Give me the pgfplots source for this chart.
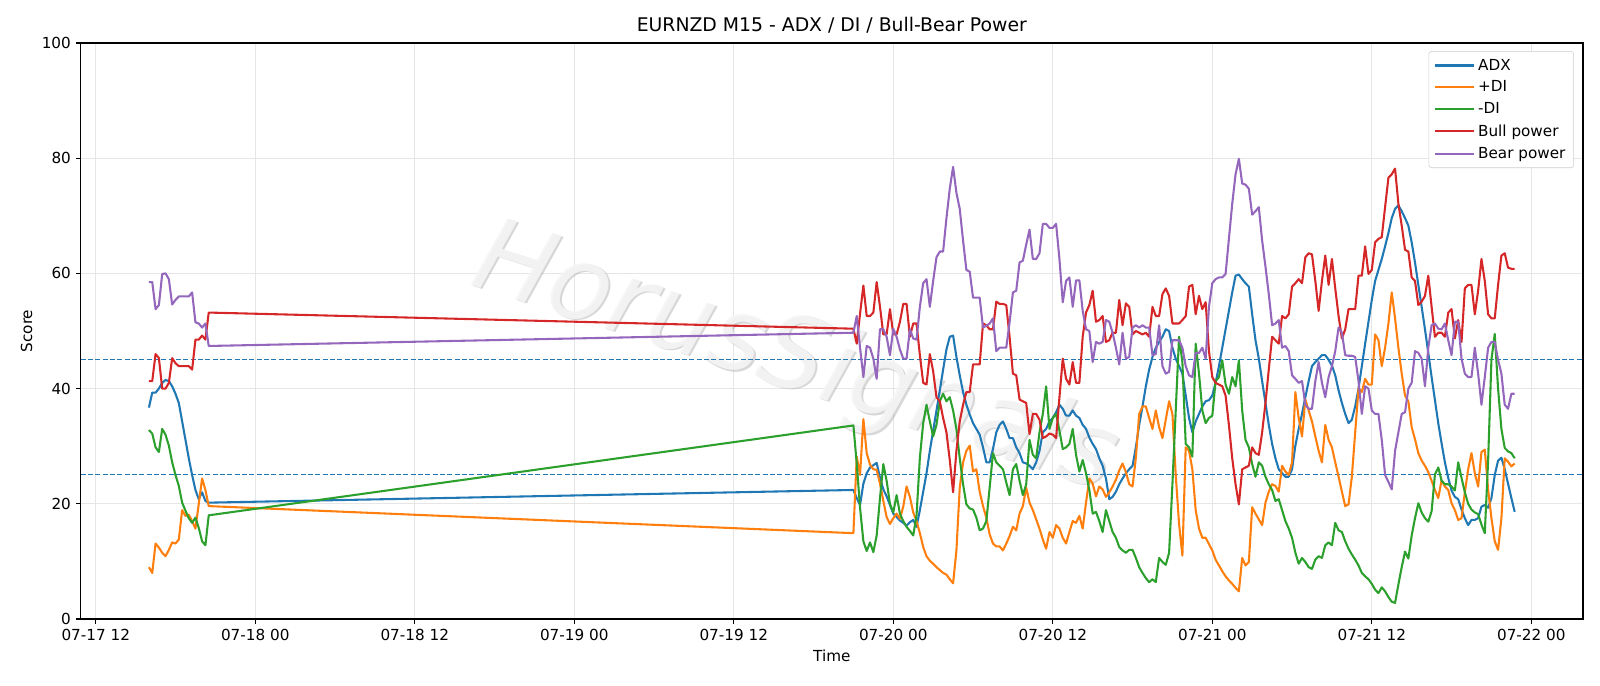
\documentclass[border=0pt]{standalone}
\usepackage{fontspec}
\setmainfont{DejaVu Sans}
\usepackage{pgfplots}
\pgfplotsset{compat=1.18}
\definecolor{tabblue}{HTML}{1F77B4}
\definecolor{taborange}{HTML}{FF7F0E}
\definecolor{tabgreen}{HTML}{2CA02C}
\definecolor{tabred}{HTML}{D62728}
\definecolor{tabpurple}{HTML}{9467BD}
\definecolor{gridgray}{HTML}{E6E6E6}
\begin{document}
\begin{tikzpicture}
\path[use as bounding box] (-0.806in,-0.67in) rectangle (15.194in,6.19in);
\begin{axis}[
  scale only axis, width=15.024in, height=5.76in,
  xmin=10.86, xmax=123.89, ymin=0, ymax=100,
  xtick={12,24,36,48,60,72,84,96,108,120},
  xticklabels={07-17 12,07-18 00,07-18 12,07-19 00,07-19 12,07-20 00,07-20 12,07-21 00,07-21 12,07-22 00},
  ytick={0,20,40,60,80,100},
  /pgf/number format/assume math mode=true,
  tick label style={font=\fontsize{11}{13}\selectfont},
  label style={font=\fontsize{11}{13}\selectfont},
  xlabel={Time}, ylabel={Score},
  title={EURNZD M15 - ADX / DI / Bull-Bear Power},
  title style={font=\fontsize{13.6}{16}\selectfont, yshift=-2.5pt},
  grid=major, grid style={gridgray, line width=0.8pt},
  axis line style={black, line width=0.8pt},
  tick pos=left, tick align=outside, major tick length=3.5pt,
  tick style={black, line width=0.8pt},
  legend style={at={(1,1)}, xshift=-6.5bp, yshift=-5.8bp, anchor=north east,
    draw={rgb,255:red,204;green,204;blue,204}, rounded corners=2pt,
    font=\fontsize{11}{13}\selectfont, row sep=2.3pt, inner xsep=4pt, inner ysep=3.5pt,
    nodes={inner sep=2pt}},
  legend cell align=left,
  legend image code/.code={\draw[#1] (0bp,0bp) -- (28bp,0bp);},
  every axis plot/.append style={line width=1.5pt, line join=round},
]
\node[rotate=-18, text=gray!70, opacity=0.45, font=\fontsize{74}{74}\selectfont\itshape] at (axis cs:64.75,44.6) {HorusSignals};
\node[rotate=-18, text=gray!8, opacity=0.9, font=\fontsize{74}{74}\selectfont\itshape] at (axis cs:64.6,44.85) {HorusSignals};

\addplot[tabblue, forget plot, line width=1pt, dash pattern=on 3.7pt off 1.6pt] coordinates {(10.86,45) (123.89,45)};
\addplot[tabblue, forget plot, line width=1pt, dash pattern=on 3.7pt off 1.6pt] coordinates {(10.86,25.05) (123.89,25.05)};

% ADX
\addplot[tabblue] coordinates {
(16,36.7)(16.25,39.3)(16.5,39.3)(16.75,40.0)(17,41.0)(17.25,41.5)(17.5,41.3)(17.75,40.4)(18,39.1)(18.25,37.5)(18.5,34.3)(18.75,31.1)(19,27.9)(19.25,25.0)(19.5,22.4)(19.75,20.8)(20,22.0)(20.25,20.5)(20.5,20.2)
(69,22.4)(69.25,21.0)(69.5,19.8)(69.75,23.5)(70,25.3)(70.25,26.3)(70.5,26.7)(70.75,27.1)(71,24.5)(71.25,22.5)(71.5,21.3)(71.75,19.8)(72,18.3)(72.25,17.7)(72.5,17.1)(72.75,16.7)(73,16.2)(73.25,16.8)(73.5,17.2)(73.75,16.0)(74,18.9)(74.25,22.1)(74.5,25.3)(74.75,29.2)(75,32.7)(75.25,36.2)(75.5,39.7)(75.75,43.3)(76,46.8)(76.25,49.0)(76.5,49.2)(76.75,45.5)(77,42.3)(77.25,39.4)(77.5,37.2)(77.75,35.5)
(78,34.0)(78.25,33.0)(78.5,32.0)(78.75,29.8)(79,27.2)(79.25,27.2)(79.5,29.5)(79.75,32.4)(80,33.7)(80.25,34.3)(80.5,33.0)(80.75,31.4)(81,31.4)(81.25,29.8)(81.5,28.8)(81.75,27.2)(82,27.0)(82.25,26.6)(82.5,26.0)(82.75,27.2)(83,29.2)(83.25,32.4)(83.5,33.0)(83.75,34.3)(84,34.9)(84.25,35.9)(84.5,37.2)(84.75,36.5)(85,35.3)(85.25,35.3)(85.5,36.2)(85.75,35.3)(86,34.9)(86.25,33.7)(86.5,33.0)(86.75,31.5)
(87,30.4)(87.25,29.5)(87.5,27.9)(87.75,26.6)(88,24.4)(88.25,20.8)(88.5,21.2)(88.75,22.1)(89,23.4)(89.25,24.4)(89.5,25.3)(89.75,26.0)(90,26.6)(90.25,29.8)(90.5,33.7)(90.75,36.9)(91,40.4)(91.25,43.3)(91.5,45.5)(91.75,47.1)(92,48.1)(92.25,49.0)(92.5,50.3)(92.75,50.0)(93,47.1)(93.25,45.2)(93.5,43.9)(93.75,42.6)(94,38.8)(94.25,34.9)(94.5,32.4)(94.75,34.3)(95,35.6)(95.25,36.9)(95.5,37.8)(95.75,38.0)
(96,38.8)(96.25,41.0)(96.5,43.9)(96.75,47.1)(97,50.3)(97.25,53.5)(97.5,56.7)(97.75,59.6)(98,59.8)(98.25,59.0)(98.5,58.3)(98.75,57.7)(99,52.9)(99.25,48.4)(99.5,45.2)(99.75,41.3)(100,37.5)(100.25,33.7)(100.5,30.4)(100.75,27.9)(101,26.0)(101.25,25.3)(101.5,24.7)(101.75,24.7)(102,26.0)(102.25,30.1)(102.5,33.0)(102.75,35.6)(103,38.5)(103.25,41.3)(103.5,43.9)(103.75,44.6)(104,45.2)(104.25,45.8)(104.5,45.8)(104.75,45.0)
(105,44.0)(105.25,42.3)(105.5,39.7)(105.75,37.5)(106,35.6)(106.25,34.0)(106.5,34.6)(106.75,36.9)(107,40.0)(107.25,43.9)(107.5,47.8)(107.75,51.6)(108,55.4)(108.25,58.7)(108.5,60.6)(108.75,62.5)(109,64.7)(109.25,67.0)(109.5,69.6)(109.75,71.2)(110,71.8)(110.25,70.8)(110.5,69.6)(110.75,68.3)(111,65.4)(111.25,61.9)(111.5,58.0)(111.75,54.2)(112,50.3)(112.25,46.2)(112.5,42.0)(112.75,38.0)(113,34.0)(113.25,30.5)(113.5,27.2)(113.75,24.5)
(114,22.3)(114.25,21.2)(114.5,20.8)(114.75,19.0)(115,17.5)(115.25,16.3)(115.5,17.2)(115.75,17.2)(116,17.5)(116.25,19.5)(116.5,19.8)(116.75,19.3)(117,21.0)(117.25,25.0)(117.5,27.5)(117.75,28.0)(118,26.0)(118.25,23.5)(118.5,21.0)(118.75,18.6)
};
\addlegendentry{ADX}

% +DI
\addplot[taborange] coordinates {
(16,9.0)(16.25,8.0)(16.5,13.1)(16.75,12.4)(17,11.5)(17.25,10.9)(17.5,12.0)(17.75,13.3)(18,13.1)(18.25,13.8)(18.5,18.9)(18.75,17.9)(19,18.1)(19.25,17.0)(19.5,15.7)(19.75,20.0)(20,24.4)(20.25,22.4)(20.5,19.6)
(69,14.9)(69.25,28.2)(69.5,25.0)(69.75,34.7)(70,28.8)(70.25,26.8)(70.5,26.0)(70.75,25.9)(71,23.5)(71.25,20.5)(71.5,17.7)(71.75,16.5)(72,17.5)(72.25,18.3)(72.5,17.4)(72.75,19.5)(73,23.0)(73.25,21.2)(73.5,18.5)(73.75,17.0)(74,14.9)(74.25,12.5)(74.5,10.9)(74.75,10.1)(75,9.6)(75.25,9.0)(75.5,8.5)(75.75,8.0)(76,7.7)(76.25,6.9)(76.5,6.2)(76.75,11.9)(77,22.8)(77.25,27.2)(77.5,29.2)(77.75,30.1)
(78,25.6)(78.25,26.0)(78.5,22.1)(78.75,19.6)(79,17.6)(79.25,14.7)(79.5,13.1)(79.75,12.6)(80,12.6)(80.25,11.9)(80.5,13.1)(80.75,14.4)(81,16.0)(81.25,15.4)(81.5,18.3)(81.75,19.6)(82,22.8)(82.25,20.2)(82.5,18.9)(82.75,17.3)(83,15.7)(83.25,13.8)(83.5,12.2)(83.75,15.1)(84,14.1)(84.25,16.3)(84.5,15.7)(84.75,14.1)(85,13.1)(85.25,15.1)(85.5,17.0)(85.75,16.7)(86,17.9)(86.25,15.7)(86.5,20.2)(86.75,24.4)
(87,23.5)(87.25,21.3)(87.5,23.0)(87.75,22.5)(88,21.2)(88.25,22.0)(88.5,23.0)(88.75,24.2)(89,25.8)(89.25,27.0)(89.5,25.5)(89.75,23.4)(90,23.0)(90.25,28.0)(90.5,35.6)(90.75,36.9)(91,36.9)(91.25,34.9)(91.5,33.0)(91.75,36.2)(92,33.3)(92.25,31.4)(92.5,34.6)(92.75,37.8)(93,35.6)(93.25,25.0)(93.5,16.5)(93.75,11.0)(94,29.8)(94.25,29.2)(94.5,26.0)(94.75,18.9)(95,15.7)(95.25,14.1)(95.5,14.1)(95.75,13.0)
(96,11.9)(96.25,10.3)(96.5,9.3)(96.75,8.3)(97,7.4)(97.25,6.7)(97.5,6.1)(97.75,5.4)(98,4.8)(98.25,10.6)(98.5,9.3)(98.75,9.9)(99,19.4)(99.25,18.3)(99.5,17.3)(99.75,16.3)(100,20.2)(100.25,22.1)(100.5,23.4)(100.75,23.1)(101,22.1)(101.25,26.6)(101.5,25.6)(101.75,25.0)(102,27.2)(102.25,39.4)(102.5,34.9)(102.75,31.7)(103,38.1)(103.25,36.2)(103.5,34.3)(103.75,31.7)(104,29.2)(104.25,27.2)(104.5,33.7)(104.75,31.1)
(105,29.8)(105.25,27.2)(105.5,24.7)(105.75,22.1)(106,19.6)(106.25,19.9)(106.5,24.7)(106.75,32.4)(107,40.0)(107.25,39.4)(107.5,41.7)(107.75,40.7)(108,40.7)(108.25,49.4)(108.5,48.4)(108.75,43.9)(109,47.1)(109.25,51.3)(109.5,56.7)(109.75,52.2)(110,47.1)(110.25,42.6)(110.5,38.8)(110.75,37.8)(111,33.3)(111.25,31.2)(111.5,28.8)(111.75,27.5)(112,26.6)(112.25,25.5)(112.5,24.0)(112.75,22.4)(113,21.0)(113.25,24.1)(113.5,23.0)(113.75,22.4)
(114,20.1)(114.25,18.9)(114.5,17.2)(114.75,17.5)(115,22.0)(115.25,26.0)(115.5,28.8)(115.75,25.3)(116,23.0)(116.25,29.0)(116.5,29.4)(116.75,22.5)(117,17.5)(117.25,13.5)(117.5,12.0)(117.75,17.5)(118,27.9)(118.25,27.3)(118.5,26.5)(118.75,27.0)
};
\addlegendentry{+DI}

% -DI
\addplot[tabgreen] coordinates {
(16,32.8)(16.25,32.2)(16.5,29.8)(16.75,29.0)(17,33.0)(17.25,32.0)(17.5,30.1)(17.75,27.2)(18,25.0)(18.25,23.1)(18.5,20.2)(18.75,18.8)(19,17.5)(19.25,16.7)(19.5,17.6)(19.75,15.8)(20,13.5)(20.25,12.8)(20.5,18.0)
(69,33.6)(69.25,27.0)(69.5,19.3)(69.75,13.5)(70,11.8)(70.25,13.3)(70.5,11.6)(70.75,14.5)(71,21.0)(71.25,26.9)(71.5,24.0)(71.75,20.0)(72,18.5)(72.25,21.5)(72.5,18.3)(72.75,17.0)(73,16.0)(73.25,15.3)(73.5,14.5)(73.75,18.0)(74,28.0)(74.25,34.0)(74.5,37.2)(74.75,34.3)(75,31.7)(75.25,33.7)(75.5,37.8)(75.75,39.1)(76,37.8)(76.25,38.5)(76.5,36.2)(76.75,33.0)(77,27.9)(77.25,23.4)(77.5,19.9)(77.75,19.2)
(78,19.0)(78.25,17.6)(78.5,15.4)(78.75,15.7)(79,17.0)(79.25,22.8)(79.5,28.8)(79.75,27.2)(80,26.6)(80.25,26.0)(80.5,23.7)(80.75,21.5)(81,26.0)(81.25,26.9)(81.5,24.0)(81.75,21.5)(82,23.4)(82.25,31.1)(82.5,28.5)(82.75,27.9)(83,32.4)(83.25,35.6)(83.5,40.4)(83.75,33.0)(84,34.9)(84.25,35.6)(84.5,32.7)(84.75,29.5)(85,29.8)(85.25,30.4)(85.5,33.0)(85.75,28.5)(86,25.6)(86.25,27.6)(86.5,25.3)(86.75,22.4)
(87,18.3)(87.25,18.6)(87.5,17.0)(87.75,15.1)(88,18.9)(88.25,17.0)(88.5,15.1)(88.75,14.1)(89,12.5)(89.25,11.9)(89.5,11.5)(89.75,12.0)(90,12.0)(90.25,10.6)(90.5,9.0)(90.75,8.0)(91,7.1)(91.25,6.4)(91.5,6.9)(91.75,6.4)(92,10.6)(92.25,9.9)(92.5,9.4)(92.75,11.5)(93,23.4)(93.25,36.2)(93.5,49.0)(93.75,44.6)(94,30.4)(94.25,29.8)(94.5,28.2)(94.75,47.8)(95,42.6)(95.25,36.2)(95.5,34.0)(95.75,34.9)
(96,35.3)(96.25,41.3)(96.5,42.0)(96.75,44.9)(97,40.7)(97.25,39.1)(97.5,42.0)(97.75,40.4)(98,44.9)(98.25,36.2)(98.5,31.1)(98.75,29.8)(99,26.9)(99.25,24.7)(99.5,27.2)(99.75,26.6)(100,24.7)(100.25,23.4)(100.5,22.4)(100.75,20.5)(101,20.8)(101.25,18.9)(101.5,17.0)(101.75,15.7)(102,14.1)(102.25,11.5)(102.5,9.6)(102.75,10.6)(103,9.9)(103.25,9.0)(103.5,8.7)(103.75,10.3)(104,10.9)(104.25,10.6)(104.5,12.8)(104.75,13.3)
(105,12.8)(105.25,16.7)(105.5,15.4)(105.75,15.1)(106,13.5)(106.25,12.2)(106.5,11.2)(106.75,10.3)(107,9.3)(107.25,8.0)(107.5,7.4)(107.75,6.9)(108,6.1)(108.25,5.1)(108.5,4.5)(108.75,5.5)(109,4.8)(109.25,3.8)(109.5,3.0)(109.75,2.8)(110,6.0)(110.25,9.0)(110.5,11.7)(110.75,10.5)(111,14.5)(111.25,17.5)(111.5,20.1)(111.75,18.5)(112,17.5)(112.25,16.9)(112.5,18.7)(112.75,25.1)(113,26.3)(113.25,24.0)(113.5,23.4)(113.75,23.4)
(114,23.0)(114.25,22.3)(114.5,27.2)(114.75,24.5)(115,22.0)(115.25,20.0)(115.5,19.0)(115.75,18.5)(116,18.2)(116.25,16.4)(116.5,14.9)(116.75,27.4)(117,45.0)(117.25,49.5)(117.5,40.0)(117.75,33.0)(118,29.7)(118.25,29.1)(118.5,28.8)(118.75,27.9)
};
\addlegendentry{-DI}

% Bull power
\addplot[tabred] coordinates {
(16,41.3)(16.25,41.3)(16.5,46.0)(16.75,45.3)(17,40.0)(17.25,40.0)(17.5,41.0)(17.75,45.3)(18,44.4)(18.25,43.9)(18.5,43.9)(18.75,43.9)(19,43.9)(19.25,43.3)(19.5,48.5)(19.75,48.5)(20,49.2)(20.25,48.5)(20.5,53.2)
(69,50.4)(69.25,47.8)(69.5,53.0)(69.75,57.9)(70,52.6)(70.25,52.6)(70.5,53.2)(70.75,58.5)(71,54.2)(71.25,49.4)(71.5,49.4)(71.75,53.8)(72,49.4)(72.25,49.4)(72.5,51.6)(72.75,54.7)(73,54.7)(73.25,49.0)(73.5,51.3)(73.75,51.3)(74,45.8)(74.25,41.0)(74.5,40.7)(74.75,46.0)(75,43.0)(75.25,38.5)(75.5,37.8)(75.75,34.9)(76,32.4)(76.25,27.6)(76.5,22.0)(76.75,29.2)(77,34.3)(77.25,37.2)(77.5,39.4)(77.75,39.4)
(78,44.2)(78.25,44.2)(78.5,44.2)(78.75,51.3)(79,51.0)(79.25,50.3)(79.5,50.3)(79.75,55.1)(80,54.7)(80.25,54.7)(80.5,54.5)(80.75,49.0)(81,42.6)(81.25,42.3)(81.5,38.1)(81.75,37.8)(82,37.5)(82.25,32.1)(82.5,35.6)(82.75,35.6)(83,34.6)(83.25,31.4)(83.5,31.7)(83.75,32.2)(84,32.0)(84.25,31.4)(84.5,38.5)(84.75,45.2)(85,41.7)(85.25,40.7)(85.5,44.6)(85.75,41.0)(86,41.0)(86.25,49.0)(86.5,53.2)(86.75,54.5)
(87,57.0)(87.25,51.6)(87.5,51.9)(87.75,52.6)(88,48.1)(88.25,48.4)(88.5,49.7)(88.75,49.7)(89,55.4)(89.25,51.0)(89.5,54.8)(89.75,54.2)(90,49.4)(90.25,50.0)(90.5,49.7)(90.75,49.4)(91,49.7)(91.25,49.0)(91.5,54.2)(91.75,52.6)(92,52.6)(92.25,56.4)(92.5,57.4)(92.75,56.1)(93,51.3)(93.25,51.3)(93.5,51.3)(93.75,51.9)(94,52.6)(94.25,57.7)(94.5,58.0)(94.75,52.9)(95,56.1)(95.25,53.8)(95.5,55.0)(95.75,46.5)
(96,42.0)(96.25,41.0)(96.5,40.7)(96.75,40.4)(97,38.8)(97.25,33.7)(97.5,27.9)(97.75,23.4)(98,19.9)(98.25,26.0)(98.5,26.3)(98.75,26.6)(99,29.8)(99.25,28.8)(99.5,28.5)(99.75,32.4)(100,37.5)(100.25,43.3)(100.5,49.0)(100.75,48.4)(101,47.8)(101.25,52.6)(101.5,52.2)(101.75,52.9)(102,57.7)(102.25,58.3)(102.5,59.0)(102.75,58.3)(103,62.8)(103.25,63.5)(103.5,63.3)(103.75,58.7)(104,53.5)(104.25,58.7)(104.5,63.1)(104.75,58.0)
(105,62.5)(105.25,57.4)(105.5,52.6)(105.75,48.7)(106,50.3)(106.25,53.8)(106.5,53.8)(106.75,53.8)(107,59.6)(107.25,59.6)(107.5,64.7)(107.75,59.9)(108,60.6)(108.25,65.4)(108.5,66.0)(108.75,66.3)(109,71.5)(109.25,76.6)(109.5,77.2)(109.75,78.2)(110,72.1)(110.25,68.3)(110.5,64.1)(110.75,63.8)(111,59.3)(111.25,58.7)(111.5,54.5)(111.75,55.1)(112,56.1)(112.25,59.6)(112.5,54.2)(112.75,49.0)(113,49.7)(113.25,49.7)(113.5,49.0)(113.75,53.2)
(114,53.8)(114.25,48.7)(114.5,51.9)(114.75,48.1)(115,57.4)(115.25,58.0)(115.5,58.0)(115.75,52.9)(116,57.0)(116.25,62.5)(116.5,58.7)(116.75,52.9)(117,52.2)(117.25,52.2)(117.5,58.0)(117.75,63.1)(118,63.5)(118.25,61.0)(118.5,60.8)(118.75,60.8)
};
\addlegendentry{Bull power}

% Bear power
\addplot[tabpurple] coordinates {
(16,58.5)(16.25,58.5)(16.5,53.8)(16.75,54.5)(17,59.9)(17.25,60.0)(17.5,59.0)(17.75,54.6)(18,55.4)(18.25,56.0)(18.5,56.0)(18.75,56.0)(19,56.0)(19.25,56.7)(19.5,51.5)(19.75,51.3)(20,50.6)(20.25,51.3)(20.5,47.4)
(69,49.7)(69.25,52.6)(69.5,47.1)(69.75,42.0)(70,47.4)(70.25,47.1)(70.5,45.2)(70.75,41.7)(71,50.3)(71.25,50.3)(71.5,49.0)(71.75,45.8)(72,50.4)(72.25,49.0)(72.5,46.8)(72.75,45.2)(73,45.2)(73.25,50.3)(73.5,48.7)(73.75,48.5)(74,54.2)(74.25,58.3)(74.5,59.0)(74.75,54.2)(75,58.7)(75.25,62.8)(75.5,63.8)(75.75,63.8)(76,69.6)(76.25,74.7)(76.5,78.5)(76.75,74.0)(77,71.2)(77.25,65.7)(77.5,60.6)(77.75,60.3)
(78,55.8)(78.25,55.8)(78.5,55.8)(78.75,50.6)(79,50.9)(79.25,51.3)(79.5,52.2)(79.75,46.5)(80,47.1)(80.25,47.1)(80.5,47.1)(80.75,51.5)(81,56.7)(81.25,57.0)(81.5,61.9)(81.75,62.2)(82,65.0)(82.25,67.6)(82.5,62.5)(82.75,62.5)(83,63.5)(83.25,68.6)(83.5,68.6)(83.75,67.9)(84,67.9)(84.25,68.6)(84.5,62.5)(84.75,55.0)(85,58.7)(85.25,59.3)(85.5,54.2)(85.75,58.8)(86,58.8)(86.25,53.5)(86.5,50.3)(86.75,50.0)
(87,44.6)(87.25,48.1)(87.5,47.8)(87.75,48.1)(88,51.9)(88.25,51.6)(88.5,49.7)(88.75,47.1)(89,44.2)(89.25,49.7)(89.5,45.2)(89.75,45.5)(90,50.6)(90.25,51.0)(90.5,50.6)(90.75,51.0)(91,50.6)(91.25,50.6)(91.5,45.8)(91.75,46.0)(92,51.0)(92.25,43.9)(92.5,42.6)(92.75,42.9)(93,48.4)(93.25,48.4)(93.5,48.4)(93.75,47.1)(94,43.9)(94.25,42.3)(94.5,42.0)(94.75,46.2)(95,46.2)(95.25,47.1)(95.5,45.2)(95.75,54.2)
(96,58.3)(96.25,59.0)(96.5,59.3)(96.75,59.3)(97,59.9)(97.25,66.0)(97.5,72.1)(97.75,77.2)(98,79.9)(98.25,75.6)(98.5,75.4)(98.75,74.7)(99,70.2)(99.25,70.8)(99.5,71.5)(99.75,65.7)(100,61.2)(100.25,56.4)(100.5,51.0)(100.75,51.3)(101,51.9)(101.25,47.1)(101.5,47.4)(101.75,46.5)(102,42.3)(102.25,41.7)(102.5,41.0)(102.75,41.3)(103,37.2)(103.25,36.5)(103.5,36.5)(103.75,41.3)(104,44.6)(104.25,41.0)(104.5,38.5)(104.75,42.0)
(105,43.9)(105.25,46.5)(105.5,50.6)(105.75,49.7)(106,45.8)(106.25,45.7)(106.5,45.7)(106.75,45.5)(107,41.3)(107.25,35.6)(107.5,40.4)(107.75,40.0)(108,36.2)(108.25,35.6)(108.5,35.6)(108.75,31.1)(109,25.0)(109.25,23.8)(109.5,22.5)(109.75,29.2)(110,32.4)(110.25,35.6)(110.5,35.9)(110.75,40.0)(111,41.0)(111.25,46.5)(111.5,46.2)(111.75,45.2)(112,40.4)(112.25,47.1)(112.5,51.0)(112.75,51.3)(113,50.4)(113.25,50.3)(113.5,51.3)(113.75,48.4)
(114,45.8)(114.25,51.6)(114.5,51.6)(114.75,45.2)(115,42.6)(115.25,42.0)(115.5,42.0)(115.75,47.1)(116,42.6)(116.25,37.2)(116.5,42.0)(116.75,47.1)(117,48.1)(117.25,48.1)(117.5,45.0)(117.75,42.6)(118,37.2)(118.25,36.5)(118.5,39.1)(118.75,39.1)
};
\addlegendentry{Bear power}
\end{axis}
\end{tikzpicture}
\end{document}
